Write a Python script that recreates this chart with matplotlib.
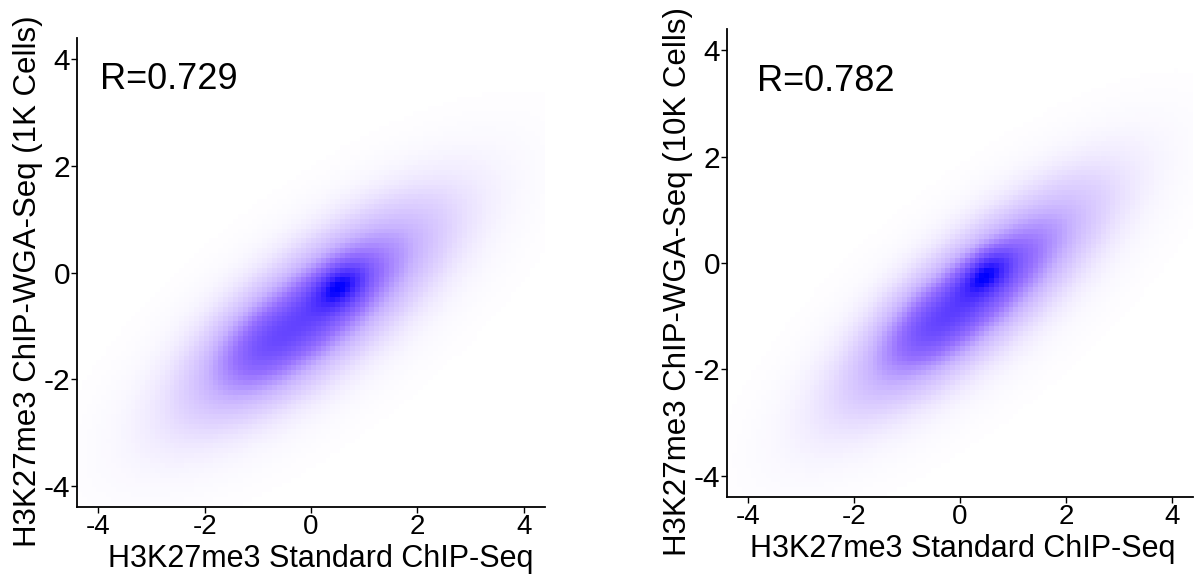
import numpy as np
import matplotlib
matplotlib.use("Agg")
import matplotlib.pyplot as plt
from matplotlib.colors import LinearSegmentedColormap

plt.rcParams['font.family'] = ['Liberation Sans', 'DejaVu Sans']

# ---- data ----
ticks = [-4, -2, 0, 2, 4]
tick_labels = ["-4", "-2", "0", "2", "4"]
x_label = "H3K27me3 Standard ChIP-Seq"
y_labels = ["H3K27me3 ChIP-WGA-Seq (1K Cells)", "H3K27me3 ChIP-WGA-Seq (10K Cells)"]
r_texts = ["R=0.729", "R=0.782"]

# density blobs seen in each panel (body, core, lower lobe, faint halo):
# centre x, centre y, spread along the main axis, spread across it, axis angle (deg), height
left_cx = [0.10, 0.55, -1.05, 0.10]
left_cy = [-0.70, -0.25, -1.40, -0.80]
left_sa = [1.70, 0.38, 0.70, 2.30]
left_sp = [0.60, 0.24, 0.50, 0.90]
left_ang = [38, 35, 38, 38]
left_h = [0.58, 0.35, 0.12, 0.10]

right_cx = [0.25, 0.48, -0.65, 0.25]
right_cy = [-0.62, -0.20, -1.10, -0.70]
right_sa = [1.75, 0.38, 0.70, 2.30]
right_sp = [0.55, 0.22, 0.45, 0.85]
right_ang = [40, 38, 40, 40]
right_h = [0.58, 0.35, 0.12, 0.10]

cmap = LinearSegmentedColormap.from_list(
    "ss", [(0.0, "#ffffff"), (0.05, "#f5f1ff"), (0.15, "#e1d4ff"),
           (0.3, "#c8b2ff"), (0.5, "#9670ff"), (0.72, "#6444ff"),
           (0.88, "#3c23ff"), (1.0, "#0000ff")])

W, H = 1198, 582
fig = plt.figure(figsize=(W / 100, H / 100), dpi=100)

lim = 4.4
nb = 96
edges = np.linspace(-lim, lim, nb + 1)
cen = 0.5 * (edges[:-1] + edges[1:])
GX, GY = np.meshgrid(cen, cen)


def density(cx, cy, sa, sp, ang, h):
    d = np.zeros_like(GX)
    for a, b, s1, s2, t, w in zip(cx, cy, sa, sp, ang, h):
        c, s = np.cos(np.radians(t)), np.sin(np.radians(t))
        u = ((GX - a) * c + (GY - b) * s) / s1
        v = (-(GX - a) * s + (GY - b) * c) / s2
        d += w * np.exp(-0.5 * (u * u + v * v))
    return d


panels = [
    dict(rect=[77 / W, 1 - 507 / H, 468 / W, 469 / H],
         params=(left_cx, left_cy, left_sa, left_sp, left_ang, left_h),
         ylab_x=28 / W, ylab_y=1 - 281 / H, rpos=(-3.96, 3.44), xlab_x=0.52),
    dict(rect=[727 / W, 1 - 497 / H, 466 / W, 468 / H],
         params=(right_cx, right_cy, right_sa, right_sp, right_ang, right_h),
         ylab_x=678 / W, ylab_y=1 - 281 / H, rpos=(-3.84, 3.24), xlab_x=0.506),
]

for i, p in enumerate(panels):
    ax = fig.add_axes(p["rect"])
    d = density(*p["params"])
    lvl = d / d.max()
    ax.imshow(lvl, extent=(-lim, lim, -lim, lim), origin="lower", cmap=cmap,
              vmin=0, vmax=1, interpolation="nearest", aspect="auto")
    ax.set_xlim(-lim, lim)
    ax.set_ylim(-lim, lim)
    for s in ["top", "right"]:
        ax.spines[s].set_visible(False)
    for s in ["left", "bottom"]:
        ax.spines[s].set_linewidth(1.3)
    ax.set_xticks(ticks)
    ax.set_xticklabels(tick_labels)
    ax.set_yticks(ticks)
    ax.set_yticklabels(tick_labels)
    ax.tick_params(length=4, width=1, pad=1)
    ax.tick_params(axis="x", labelsize=20)
    ax.tick_params(axis="y", labelsize=21.5)
    ax.set_xlabel(x_label, fontsize=22)
    ax.xaxis.set_label_coords(p["xlab_x"], -0.078)
    fig.text(p["ylab_x"], p["ylab_y"], y_labels[i], rotation=90,
             ha="center", va="center", fontsize=22.5)
    ax.text(p["rpos"][0], p["rpos"][1], r_texts[i], fontsize=26,
            ha="left", va="baseline")

fig.savefig("out.png", dpi=100)
